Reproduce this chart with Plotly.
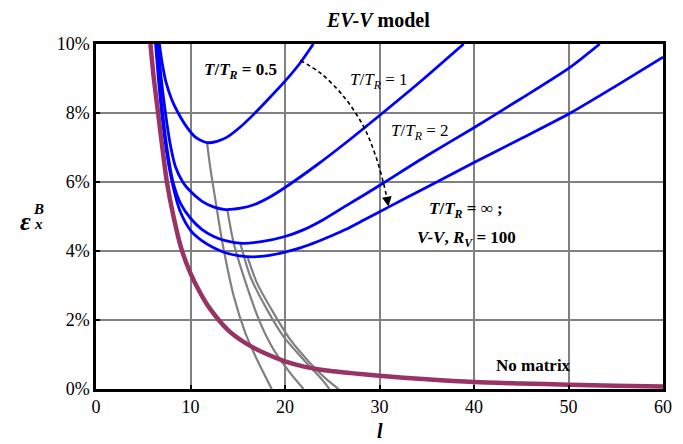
import plotly.graph_objects as go

# ---- data (l, strain in %) ----
tr05_l = [6.71, 7.0, 7.4, 8.0, 8.6, 9.46, 10.52, 11.75, 12.8, 13.87, 15.3, 16.68, 18.4, 20.03, 21.6, 23.0]
tr05_e = [10.0, 9.45, 8.9, 8.4, 8.05, 7.65, 7.3, 7.14, 7.18, 7.3, 7.6, 7.96, 8.45, 8.93, 9.45, 10.0]

tr1_l = [6.55, 6.9, 7.35, 7.85, 8.4, 9.18, 9.81, 11.23, 12.5, 13.69, 15.3, 16.7, 18.5, 20.0, 23.4, 26.4, 30.1, 34.5, 38.9]
tr1_e = [10.0, 9.0, 8.0, 7.1, 6.45, 6.0, 5.78, 5.44, 5.27, 5.2, 5.24, 5.34, 5.58, 5.84, 6.5, 7.13, 7.95, 8.95, 10.0]

tr2_l = [6.4, 6.7, 7.05, 7.5, 8.15, 9.0, 10.0, 11.23, 12.4, 13.69, 15.5, 17.5, 20.0, 22.0, 24.0, 26.4, 28.4, 30.4, 35.0, 39.9, 45.0, 50.2, 53.3]
tr2_e = [10.0, 9.0, 8.0, 7.0, 6.0, 5.35, 4.95, 4.62, 4.43, 4.3, 4.22, 4.27, 4.42, 4.62, 4.9, 5.3, 5.63, 5.97, 6.76, 7.56, 8.42, 9.33, 10.0]

trinf_l = [6.3, 6.6, 6.95, 7.4, 8.05, 8.9, 10.0, 11.2, 12.4, 13.69, 15.2, 16.7, 18.5, 20.0, 21.7, 23.4, 25.0, 26.4, 28.5, 30.8, 35.0, 39.9, 45.0, 50.2, 55.0, 60.0]
trinf_e = [10.0, 9.0, 8.0, 7.0, 6.0, 5.15, 4.6, 4.3, 4.1, 3.95, 3.86, 3.83, 3.88, 3.97, 4.1, 4.27, 4.45, 4.62, 4.92, 5.25, 5.85, 6.55, 7.26, 8.0, 8.78, 9.62]

nomat_l = [5.76, 6.12, 6.57, 7.02, 7.5, 8.2, 9.0, 10.0, 11.0, 12.0, 14.0, 16.0, 18.0, 20.0, 22.0, 24.0, 27.0, 30.0, 35.0, 40.0, 45.0, 50.0, 55.0, 60.0]
nomat_e = [10.0, 9.0, 8.0, 7.0, 6.0, 5.0, 4.1, 3.35, 2.8, 2.35, 1.7, 1.3, 1.02, 0.8, 0.65, 0.55, 0.46, 0.385, 0.28, 0.2, 0.16, 0.125, 0.095, 0.07]

gray1_l = [11.75, 12.1, 12.63, 13.35, 14.58, 15.8, 17.2, 18.6]
gray1_e = [7.14, 6.4, 5.49, 4.28, 2.69, 1.63, 0.76, 0.0]
gray2_l = [13.9, 14.57, 15.98, 17.39, 18.8, 20.56, 21.97]
gray2_e = [5.2, 4.23, 2.97, 1.91, 1.14, 0.46, 0.0]
gray3_l = [15.27, 16.33, 18.1, 19.85, 21.97, 24.08, 24.7]
gray3_e = [4.22, 3.26, 2.3, 1.52, 0.85, 0.22, 0.0]
gray4_l = [16.0, 17.04, 18.8, 20.56, 22.67, 24.44, 25.67]
gray4_e = [3.85, 3.07, 2.2, 1.43, 0.75, 0.27, 0.0]

arrow_l = [21.62, 23.73, 26.2, 28.31, 29.55, 30.42, 30.85]
arrow_e = [9.52, 9.16, 8.48, 7.61, 6.79, 5.97, 5.45]
arrow_tip = (30.95, 5.29)

x_ticks = [0, 10, 20, 30, 40, 50, 60]
y_ticks = [0, 2, 4, 6, 8, 10]

BLUE = "#0000FF"
PURPLE = "#993366"
GRAY = "#808080"
FONT = "Liberation Serif"


def pct(v):
    return [e / 100.0 for e in v]


fig = go.Figure()
for gl, ge in [(gray1_l, gray1_e), (gray2_l, gray2_e), (gray3_l, gray3_e), (gray4_l, gray4_e)]:
    fig.add_trace(go.Scatter(x=gl, y=pct(ge), mode="lines",
                             line=dict(color=GRAY, width=2.2, shape="spline", smoothing=0.7),
                             showlegend=False, hoverinfo="skip"))
for bl, be in [(tr05_l, tr05_e), (tr1_l, tr1_e), (tr2_l, tr2_e), (trinf_l, trinf_e)]:
    fig.add_trace(go.Scatter(x=bl, y=pct(be), mode="lines",
                             line=dict(color=BLUE, width=2.8, shape="spline", smoothing=0.7),
                             showlegend=False, hoverinfo="skip"))
fig.add_trace(go.Scatter(x=nomat_l, y=pct(nomat_e), mode="lines",
                         line=dict(color=PURPLE, width=4.5, shape="spline", smoothing=0.7),
                         showlegend=False, hoverinfo="skip"))
fig.add_trace(go.Scatter(x=arrow_l, y=pct(arrow_e), mode="lines",
                         line=dict(color="black", width=1.6, dash="4px,3px", shape="spline"),
                         showlegend=False, hoverinfo="skip"))

ann = []
ann.append(dict(x=arrow_tip[0], y=arrow_tip[1] / 100, ax=arrow_l[-1], ay=arrow_e[-1] / 100,
                xref="x", yref="y", axref="x", ayref="y", text="", showarrow=True,
                arrowhead=2, arrowsize=1.3, arrowwidth=1.5, arrowcolor="black"))


def txt(x, y, text, size=16, xref="x", yref="y"):
    ann.append(dict(x=x, y=y, xref=xref, yref=yref, text=text, showarrow=False,
                    font=dict(family=FONT, size=size, color="black"),
                    xanchor="center", yanchor="middle"))


txt(15.3, 0.0922, "<b><i>T</i>/<i>T</i><sub><i>R</i></sub> = 0.5</b>", 17)
txt(29.97, 0.0894, "<i>T</i>/<i>T</i><sub><i>R</i></sub> = 1", 17)
txt(34.3, 0.0746, "<i>T</i>/<i>T</i><sub><i>R</i></sub> = 2", 17)
txt(39.1, 0.0520, "<b><i>T</i>/<i>T</i><sub><i>R</i></sub> = ∞ ;</b>", 17)
txt(39.2, 0.0436, "<b><i>V-V</i>, <i>R</i><sub><i>V</i></sub> = 100</b>", 17)
txt(46.3, 0.00675, "<b>No matrix</b>", 17)
txt(0.498, 1.0695, "<b><i>EV-V</i> model</b>", 20, "paper", "paper")
txt(0.5016, -0.122, "<b><i>l</i></b>", 20, "paper", "paper")
txt(-0.124, 0.4845, "<b><i>ε</i></b>", 26, "paper", "paper")
txt(-0.1013, 0.521, "<b><i>B</i></b>", 15, "paper", "paper")
txt(-0.1013, 0.479, "<b><i>x</i></b>", 15, "paper", "paper")

fig.update_layout(
    width=683, height=444,
    margin=dict(l=96, r=20, t=44, b=55),
    paper_bgcolor="white", plot_bgcolor="white",
    font=dict(family=FONT, size=16, color="black"),
    showlegend=False,
    annotations=ann,
    xaxis=dict(range=[0, 60], tickvals=x_ticks, ticktext=[str(v) for v in x_ticks],
               showgrid=True, gridcolor=GRAY, gridwidth=2,
               showline=True, linecolor="black", linewidth=2.5, mirror=True,
               ticks="inside", ticklen=4, tickcolor="black", tickwidth=2,
               zeroline=False, tickfont=dict(family=FONT, size=18)),
    yaxis=dict(range=[0, 0.10], tickvals=[v / 100 for v in y_ticks],
               ticktext=[f"{v}%" for v in y_ticks],
               showgrid=True, gridcolor=GRAY, gridwidth=2,
               showline=True, linecolor="black", linewidth=2.5, mirror=True,
               ticks="inside", ticklen=4, tickcolor="black", tickwidth=2,
               zeroline=False, tickfont=dict(family=FONT, size=18)),
)

fig.write_html("out.html", config={"displayModeBar": False},
               post_script="document.body.style.margin='0px';")
